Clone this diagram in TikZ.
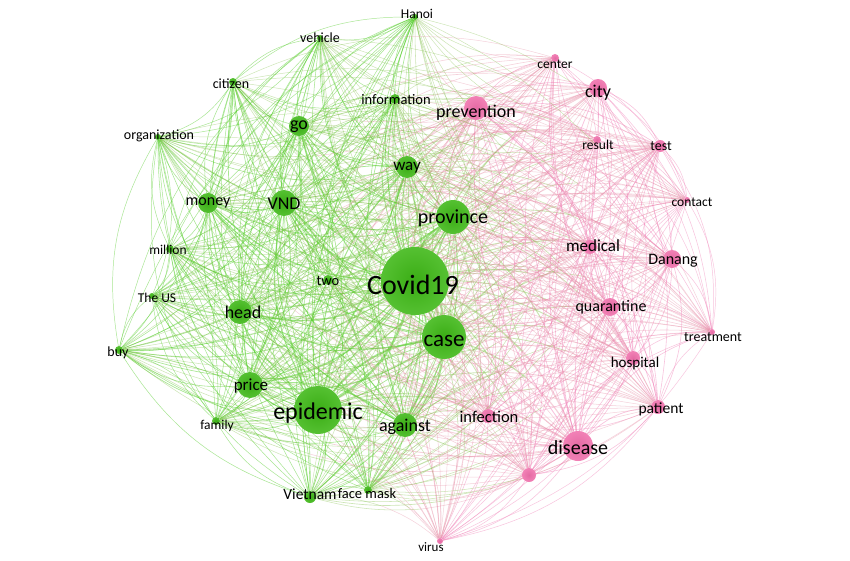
\documentclass[tikz,border=0pt]{standalone}
\usepackage{fontspec}
\setmainfont{Carlito}
\usetikzlibrary{calc,backgrounds}
\definecolor{gnode}{RGB}{62,184,22}
\definecolor{pnode}{RGB}{240,112,172}
\definecolor{gedge}{RGB}{88,208,46}
\definecolor{pedge}{RGB}{242,130,184}
\definecolor{medge}{RGB}{206,164,120}
\colorlet{ghalf}{gedge!65!medge}
\colorlet{phalf}{pedge!70!medge}
\tikzset{
  dotg/.style={circle, inner sep=0pt, draw=none, inner color=gnode!94!black, outer color=gnode!88!white},
  dotp/.style={circle, inner sep=0pt, draw=none, inner color=pnode!95!black, outer color=pnode!88!white},
  kwtext/.style={inner sep=0pt, text=black},
  e-gg/.style={draw=gedge, draw opacity=0.52},
  e-pp/.style={draw=pedge, draw opacity=0.48},
  h-g/.style={draw=ghalf, draw opacity=0.40},
  h-p/.style={draw=phalf, draw opacity=0.40},
}
% name, x, y, radius, group, text, font size, label offset
\newcommand\kwnode[8]{%
  \expandafter\xdef\csname nr@#1\endcsname{#4}%
  \expandafter\xdef\csname ng@#1\endcsname{#5}%
  \node[dot#5, minimum size={2*#4pt}] (#1) at (#2,#3) {};
  \node[kwtext, font=\fontsize{#7}{#7}\selectfont] (#1-t) at ($(#1)+#8$) {#6};
}
\def\nodelist{Covid19,epidemic,case,province,disease,VND,price,head,against,prevention,way,go,money,city,Danang,quarantine,medical,hospital,patient,infection,pinkx,test,Vietnam,two,information,citizen,center,result,million,buy,family,facemask,Hanoi,vehicle,organization,TheUS,contact,treatment,virus}
\begin{document}
\begin{tikzpicture}[x=1pt,y=-1pt]
\useasboundingbox (0,0) rectangle (850,560);
% green cluster
\kwnode{Covid19}{415}{281}{34}{g}{Covid19}{28}{(-2,4)}
\kwnode{epidemic}{318}{410}{24}{g}{epidemic}{24}{(0,3)}
\kwnode{case}{444}{337}{22}{g}{case}{23}{(0,4)}
\kwnode{province}{453}{217}{17}{g}{province}{20}{(0,1)}
\kwnode{VND}{284}{203}{13}{g}{VND}{18}{(0,1)}
\kwnode{price}{250}{385}{13}{g}{price}{17}{(1,1)}
\kwnode{head}{240}{312}{12}{g}{head}{18}{(3,0)}
\kwnode{against}{405}{425}{12}{g}{against}{18}{(0,2)}
\kwnode{way}{407}{167}{11}{g}{way}{17}{(0,1)}
\kwnode{go}{299}{126}{10}{g}{go}{18}{(0,1)}
\kwnode{money}{208}{203}{10}{g}{money}{16}{(0,0)}
\kwnode{Vietnam}{310}{497}{6}{g}{Vietnam}{15.5}{(0,-3)}
\kwnode{two}{328}{280}{5}{g}{two}{14.5}{(0,1)}
\kwnode{information}{395}{99}{5}{g}{information}{14.5}{(1,1)}
\kwnode{citizen}{233}{82}{4}{g}{citizen}{14}{(-2,2)}
\kwnode{million}{170}{249}{4}{g}{million}{13.5}{(-2,1)}
\kwnode{buy}{119}{350}{4}{g}{buy}{14}{(-1,3)}
\kwnode{family}{216}{421}{4}{g}{family}{13.5}{(1,5)}
\kwnode{facemask}{368}{490}{4}{g}{face mask}{14.5}{(-1,4)}
\kwnode{Hanoi}{415}{17}{3}{g}{Hanoi}{13.5}{(2,-3)}
\kwnode{vehicle}{320}{38}{3}{g}{vehicle}{14}{(0,0)}
\kwnode{organization}{158}{137}{3}{g}{organization}{14}{(1,-1)}
\kwnode{TheUS}{152}{296}{3}{g}{The US}{13.5}{(5,2)}
% pink cluster
\kwnode{disease}{578}{446}{15}{p}{disease}{20}{(0,2)}
\kwnode{prevention}{476}{108}{12}{p}{prevention}{18}{(0,5)}
\kwnode{city}{598}{88}{9}{p}{city}{18}{(0,5)}
\kwnode{Danang}{672}{259}{9}{p}{Danang}{16}{(1,2)}
\kwnode{quarantine}{610}{307}{9}{p}{quarantine}{16}{(1,0)}
\kwnode{medical}{590}{247}{7}{p}{medical}{17}{(3,-1)}
\kwnode{hospital}{633}{358}{7}{p}{hospital}{15}{(2,5)}
\kwnode{patient}{658}{407}{7}{p}{patient}{15.5}{(3,2)}
\kwnode{infection}{488}{416}{7}{p}{infection}{16.5}{(1,1)}
\kwnode{pinkx}{529}{475}{7}{p}{}{10}{(0,0)}
\kwnode{test}{660}{146}{6}{p}{test}{14}{(1,0)}
\kwnode{center}{555}{58}{4}{p}{center}{13.5}{(0,6)}
\kwnode{result}{597}{140}{4}{p}{result}{13.5}{(1,5)}
\kwnode{contact}{687}{200}{3}{p}{contact}{13.5}{(5,2)}
\kwnode{treatment}{712}{332}{3}{p}{treatment}{14}{(1,5)}
\kwnode{virus}{440}{541}{3}{p}{virus}{13}{(-9,6)}
% connectors
\begin{pgfonlayer}{background}
\fill[white] (0,0) rectangle (850,560);
\foreach \a [count=\i] in \nodelist {
  \foreach \b [count=\j] in \nodelist {
    \ifnum\j>\i
      \edef\ga{\csname ng@\a\endcsname}%
      \edef\gb{\csname ng@\b\endcsname}%
      \pgfmathsetmacro\w{0.45+0.0023*\csname nr@\a\endcsname*\csname nr@\b\endcsname}%
      \ifx\ga\gb
        \draw[e-\ga\gb, line width=\w pt] (\a) to[bend left=20] (\b);
      \else
        \path (\a) to[bend left=20] coordinate[pos=0.5] (mid) (\b);
        \draw[h-\ga, line width=\w pt] (\a) to[bend left=9] (mid);
        \draw[h-\gb, line width=\w pt] (mid) to[bend left=9] (\b);
      \fi
    \fi
  }
}
\end{pgfonlayer}
\end{tikzpicture}
\end{document}
